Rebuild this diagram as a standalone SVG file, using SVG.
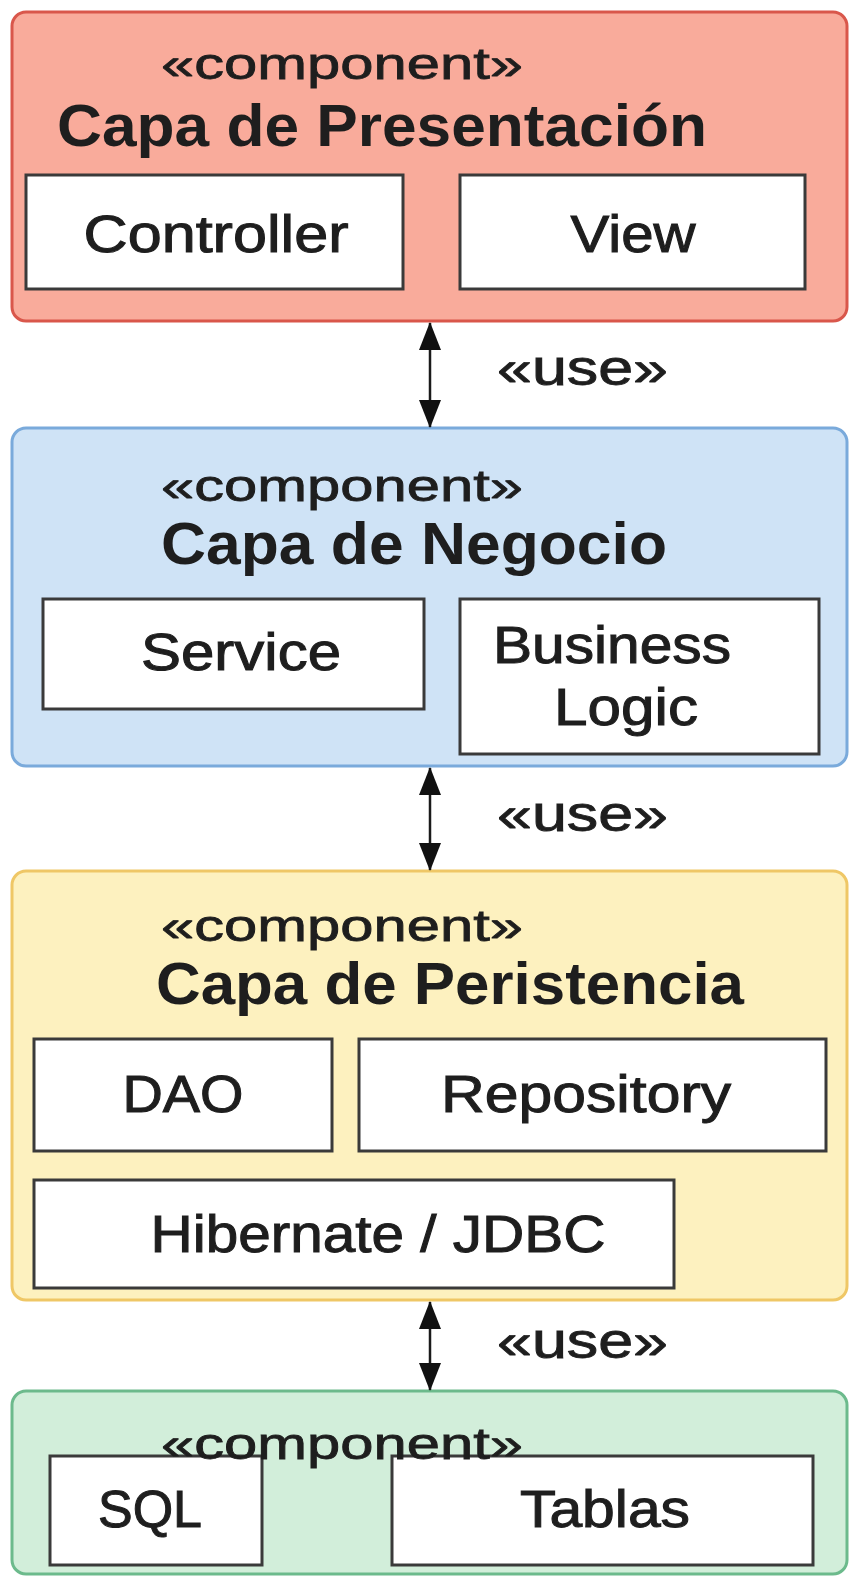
<svg xmlns="http://www.w3.org/2000/svg" width="849" height="1578" viewBox="0 0 849 1578">
  <defs>
    <marker id="arrow" viewBox="0 0 28 24" refX="27" refY="12" markerWidth="28" markerHeight="24" markerUnits="userSpaceOnUse" orient="auto-start-reverse">
      <path d="M0,1 L28,12 L0,23 Z" fill="#111"/>
    </marker>
    <style>
      .layer { stroke-width: 3; }
      .red { fill: #f9ab9b; stroke: #d9574b; }
      .blue { fill: #cfe3f6; stroke: #7aaadb; }
      .yellow { fill: #fdf1bf; stroke: #efc766; }
      .green { fill: #d2eeda; stroke: #6cba8c; }
      .part { fill: #ffffff; stroke: #3a3a3a; stroke-width: 3; }
      text { font-family: "Liberation Sans", Arial, sans-serif; fill: #1e1e1e; }
      .stereo { font-size: 45px; stroke: #1e1e1e; stroke-width: 0.8; }
      .title { font-size: 60px; font-weight: bold; }
      .label { font-size: 51px; text-anchor: middle; stroke: #1e1e1e; stroke-width: 1; }
      .use { font-size: 50px; stroke: #1e1e1e; stroke-width: 0.9; }
      .conn { stroke: #1a1a1a; stroke-width: 2.5; fill: none; }
    </style>
  </defs>

  <!-- Presentation layer -->
  <g id="capa-presentacion">
    <rect class="layer red" x="12" y="12" width="835" height="309" rx="14"/>
    <text class="stereo" x="161" y="79" textLength="362" lengthAdjust="spacingAndGlyphs">«component»</text>
    <text class="title" x="57" y="146" textLength="650" lengthAdjust="spacingAndGlyphs">Capa de Presentación</text>
    <g id="controller">
      <rect class="part" x="26" y="175" width="377" height="114"/>
      <text class="label" x="216" y="252" textLength="265" lengthAdjust="spacingAndGlyphs">Controller</text>
    </g>
    <g id="view">
      <rect class="part" x="460" y="175" width="345" height="114"/>
      <text class="label" x="633" y="252" textLength="125" lengthAdjust="spacingAndGlyphs">View</text>
    </g>
  </g>

  <!-- Business layer -->
  <g id="capa-negocio">
    <rect class="layer blue" x="12" y="428" width="835" height="338" rx="14"/>
    <text class="stereo" x="161" y="501" textLength="362" lengthAdjust="spacingAndGlyphs">«component»</text>
    <text class="title" x="161" y="564" textLength="506" lengthAdjust="spacingAndGlyphs">Capa de Negocio</text>
    <g id="service">
      <rect class="part" x="43" y="599" width="381" height="110"/>
      <text class="label" x="241" y="670" textLength="200" lengthAdjust="spacingAndGlyphs">Service</text>
    </g>
    <g id="business-logic">
      <rect class="part" x="460" y="599" width="359" height="155"/>
      <text class="label" x="612" y="663" textLength="238" lengthAdjust="spacingAndGlyphs">Business</text>
      <text class="label" x="626" y="725" textLength="144" lengthAdjust="spacingAndGlyphs">Logic</text>
    </g>
  </g>

  <!-- Persistence layer -->
  <g id="capa-persistencia">
    <rect class="layer yellow" x="12" y="871" width="835" height="429" rx="14"/>
    <text class="stereo" x="161" y="941" textLength="362" lengthAdjust="spacingAndGlyphs">«component»</text>
    <text class="title" x="156" y="1004" textLength="588" lengthAdjust="spacingAndGlyphs">Capa de Peristencia</text>
    <g id="dao">
      <rect class="part" x="34" y="1039" width="298" height="112"/>
      <text class="label" x="183" y="1112" textLength="121" lengthAdjust="spacingAndGlyphs">DAO</text>
    </g>
    <g id="repository">
      <rect class="part" x="359" y="1039" width="467" height="112"/>
      <text class="label" x="586" y="1112" textLength="290" lengthAdjust="spacingAndGlyphs">Repository</text>
    </g>
    <g id="hibernate-jdbc">
      <rect class="part" x="34" y="1180" width="640" height="108"/>
      <text class="label" x="378" y="1252" textLength="455" lengthAdjust="spacingAndGlyphs">Hibernate / JDBC</text>
    </g>
  </g>

  <!-- Database layer -->
  <g id="capa-datos">
    <rect class="layer green" x="12" y="1391" width="835" height="183" rx="14"/>
    <g id="sql">
      <rect class="part" x="50" y="1456" width="212" height="109"/>
      <text class="label" x="150" y="1527" textLength="104" lengthAdjust="spacingAndGlyphs">SQL</text>
    </g>
    <g id="tablas">
      <rect class="part" x="392" y="1456" width="421" height="109"/>
      <text class="label" x="605" y="1527" textLength="170" lengthAdjust="spacingAndGlyphs">Tablas</text>
    </g>
    <text class="stereo" x="161" y="1459" textLength="362" lengthAdjust="spacingAndGlyphs">«component»</text>
  </g>

  <!-- Dependencies between layers -->
  <g id="connectors">
    <line class="conn" x1="430" y1="323" x2="430" y2="427" marker-start="url(#arrow)" marker-end="url(#arrow)"/>
    <text class="use" x="497" y="385" textLength="171" lengthAdjust="spacingAndGlyphs">«use»</text>
    <line class="conn" x1="430" y1="768" x2="430" y2="870" marker-start="url(#arrow)" marker-end="url(#arrow)"/>
    <text class="use" x="497" y="831" textLength="171" lengthAdjust="spacingAndGlyphs">«use»</text>
    <line class="conn" x1="430" y1="1302" x2="430" y2="1390" marker-start="url(#arrow)" marker-end="url(#arrow)"/>
    <text class="use" x="497" y="1358" textLength="171" lengthAdjust="spacingAndGlyphs">«use»</text>
  </g>
</svg>
